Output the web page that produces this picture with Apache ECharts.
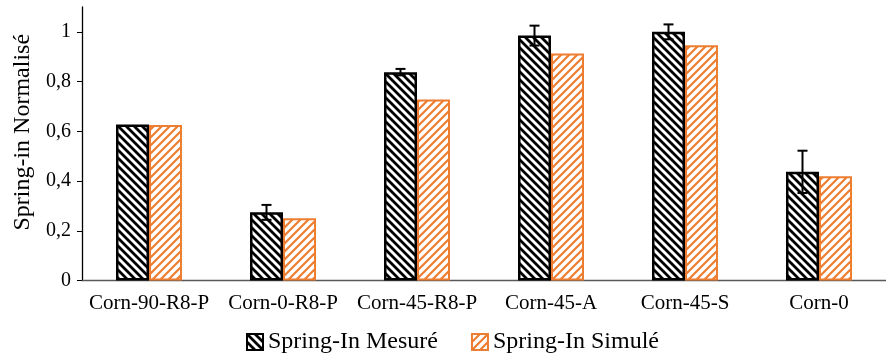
<!DOCTYPE html>
<html><head><meta charset="utf-8">
<script src="https://cdn.jsdelivr.net/npm/echarts@6/dist/echarts.min.js"></script>
<style>html,body{margin:0;padding:0;background:#fff}#c{width:886px;height:363px}</style>
</head><body><div id="c"></div>
<script>
const categories = ['Corn-90-R8-P','Corn-0-R8-P','Corn-45-R8-P','Corn-45-A','Corn-45-S','Corn-0'];
const mesure = [0.627, 0.274, 0.838, 0.985, 1.0, 0.437];
const simule = [0.625, 0.250, 0.728, 0.913, 0.946, 0.419];
const mesureErr = [0, 0.03, 0.013, 0.04, 0.03, 0.085];
const yTicks = [0, 0.2, 0.4, 0.6, 0.8, 1];
const seriesNames = ['Spring-In Mesuré', 'Spring-In Simulé'];

const ORANGE = '#ED7D31';
const FONT = '"Liberation Serif", "Times New Roman", serif';
const BAR_W = 33;

function hatch(color, lw, dir) {
  const s = 8;
  const c = document.createElement('canvas');
  c.width = s; c.height = s;
  const g = c.getContext('2d');
  g.fillStyle = '#fff'; g.fillRect(0, 0, s, s);
  g.strokeStyle = color; g.lineWidth = lw; g.lineCap = 'square';
  g.beginPath();
  for (const k of [-s, 0, s]) {
    if (dir === 'back') { g.moveTo(k, 0); g.lineTo(k + s, s); }
    else { g.moveTo(k, s); g.lineTo(k + s, 0); }
  }
  g.stroke();
  return c;
}

const chart = echarts.init(document.getElementById('c'), null, {renderer: 'canvas'});
chart.setOption({
  animation: false,
  textStyle: {fontFamily: FONT},
  grid: {left: 82, right: -10, top: 7, bottom: 82.5, containLabel: false},
  legend: {
    data: seriesNames,
    bottom: 4, left: 241,
    itemWidth: 16, itemHeight: 16, itemGap: 33,
    textStyle: {fontFamily: FONT, fontSize: 24, color: '#000'},
    icon: 'rect'
  },
  xAxis: {
    type: 'category', data: categories,
    axisLine: {lineStyle: {color: '#595959', width: 1.3}},
    axisTick: {show: false},
    axisLabel: {fontFamily: FONT, fontSize: 21, color: '#000', margin: 12, interval: 0, hideOverlap: false}
  },
  yAxis: {
    type: 'value', min: 0, max: 1.1, interval: 0.2,
    name: 'Spring-in Normalisé', nameLocation: 'middle', nameGap: 47,
    nameTextStyle: {fontFamily: FONT, fontSize: 24, color: '#000', padding: [0, 0, 0, 23]},
    axisLine: {show: true, lineStyle: {color: '#000', width: 1.3}},
    axisTick: {show: true, length: 5, lineStyle: {color: '#000'}, customValues: yTicks},
    splitLine: {show: false},
    axisLabel: {fontFamily: FONT, fontSize: 20, color: '#000', margin: 11,
      customValues: yTicks,
      formatter: v => String(v).replace('.', ',')}
  },
  series: [
    {
      name: seriesNames[0], type: 'bar', data: mesure, barWidth: BAR_W, barGap: '0%',
      itemStyle: {color: {image: hatch('#000', 2.8, 'back'), repeat: 'repeat'}, borderColor: '#000', borderWidth: 2.5}
    },
    {
      name: seriesNames[1], type: 'bar', data: simule, barWidth: BAR_W,
      itemStyle: {color: {image: hatch(ORANGE, 2.2, 'fwd'), repeat: 'repeat'}, borderColor: ORANGE, borderWidth: 2}
    },
    {
      type: 'custom', name: 'err', silent: true, z: 10,
      data: mesure.map((v, i) => [i, v, mesureErr[i]]),
      renderItem: function (params, api) {
        const i = api.value(0), v = api.value(1), e = api.value(2);
        if (!e) return null;
        const hi = api.coord([i, v + e]);
        const lo = api.coord([i, v - e]);
        const x = hi[0] - BAR_W / 2;
        const cap = 5;
        const st = {stroke: '#000', lineWidth: 2};
        return {type: 'group', children: [
          {type: 'line', shape: {x1: x, y1: hi[1], x2: x, y2: lo[1]}, style: st},
          {type: 'line', shape: {x1: x - cap, y1: hi[1], x2: x + cap, y2: hi[1]}, style: st},
          {type: 'line', shape: {x1: x - cap, y1: lo[1], x2: x + cap, y2: lo[1]}, style: st}
        ]};
      }
    }
  ]
});
</script></body></html>
